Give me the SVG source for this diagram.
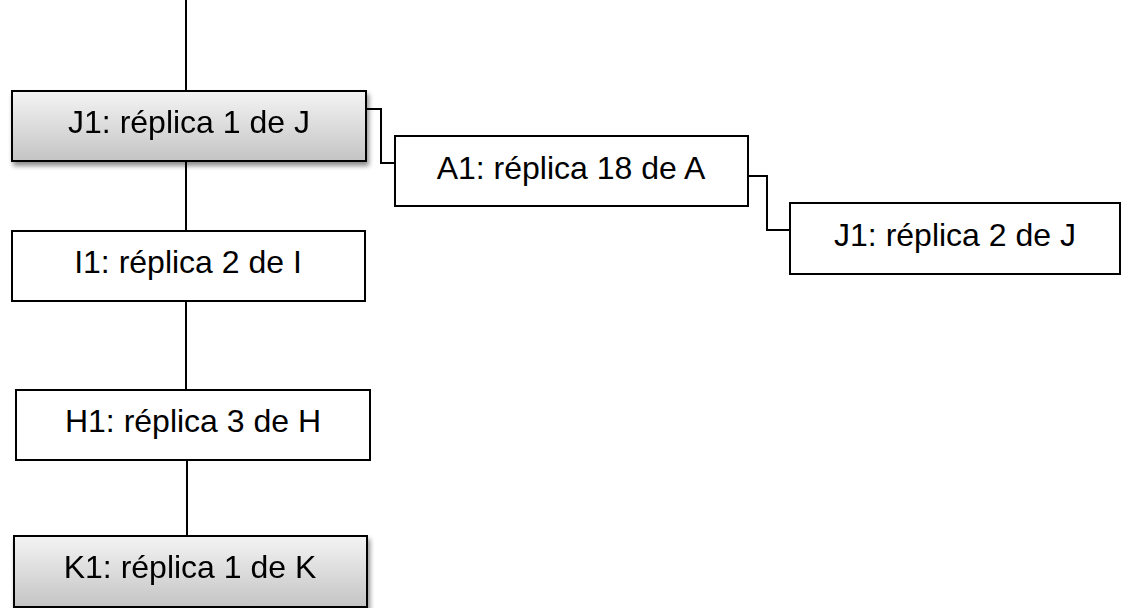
<svg xmlns="http://www.w3.org/2000/svg" width="1130" height="608" viewBox="0 0 1130 608">
<style>
.box{fill:#ffffff;stroke:#000;stroke-width:2}
.gbox{fill:url(#g);stroke:#000;stroke-width:2}
.lbl{font-family:"Liberation Sans",Arial,sans-serif;font-size:32px;fill:#000;text-anchor:middle}
.con{fill:none;stroke:#000;stroke-width:2}
</style>
<defs>
<linearGradient id="g" x1="0" y1="0" x2="0" y2="1">
<stop offset="0" stop-color="#f4f4f4"/>
<stop offset="1" stop-color="#c4c4c4"/>
</linearGradient>
<filter id="sh" x="-5%" y="-10%" width="115%" height="140%">
<feGaussianBlur in="SourceAlpha" stdDeviation="2.5"/>
<feOffset dx="2" dy="4" result="b"/>
<feComponentTransfer><feFuncA type="linear" slope="0.45"/></feComponentTransfer>
<feMerge><feMergeNode/><feMergeNode in="SourceGraphic"/></feMerge>
</filter>
</defs>
<g id="connectors">
<line class="con" x1="186" y1="0" x2="186" y2="91"/>
<line class="con" x1="186" y1="161" x2="186" y2="231"/>
<line class="con" x1="186" y1="301" x2="186" y2="390"/>
<line class="con" x1="187" y1="460" x2="187" y2="536"/>
<polyline class="con" points="366,109 381,109 381,163 395,163"/>
<polyline class="con" points="748,176 767,176 767,230 790,230"/>
</g>
<g id="J1a" filter="url(#sh)">
<rect class="gbox" x="12" y="91" width="354" height="70"/>
<text class="lbl" x="189" y="133">J1: réplica 1 de J</text>
</g>
<g id="A1">
<rect class="box" x="395" y="136" width="353" height="70"/>
<text class="lbl" x="571" y="179">A1: réplica 18 de A</text>
</g>
<g id="J1b">
<rect class="box" x="790" y="203" width="330" height="71"/>
<text class="lbl" x="955" y="246">J1: réplica 2 de J</text>
</g>
<g id="I1">
<rect class="box" x="12" y="231" width="353" height="70"/>
<text class="lbl" x="188" y="273">I1: réplica 2 de I</text>
</g>
<g id="H1">
<rect class="box" x="16" y="390" width="354" height="70"/>
<text class="lbl" x="193" y="432">H1: réplica 3 de H</text>
</g>
<g id="K1" filter="url(#sh)">
<rect class="gbox" x="14" y="536" width="353" height="71"/>
<text class="lbl" x="190" y="578">K1: réplica 1 de K</text>
</g>
</svg>
